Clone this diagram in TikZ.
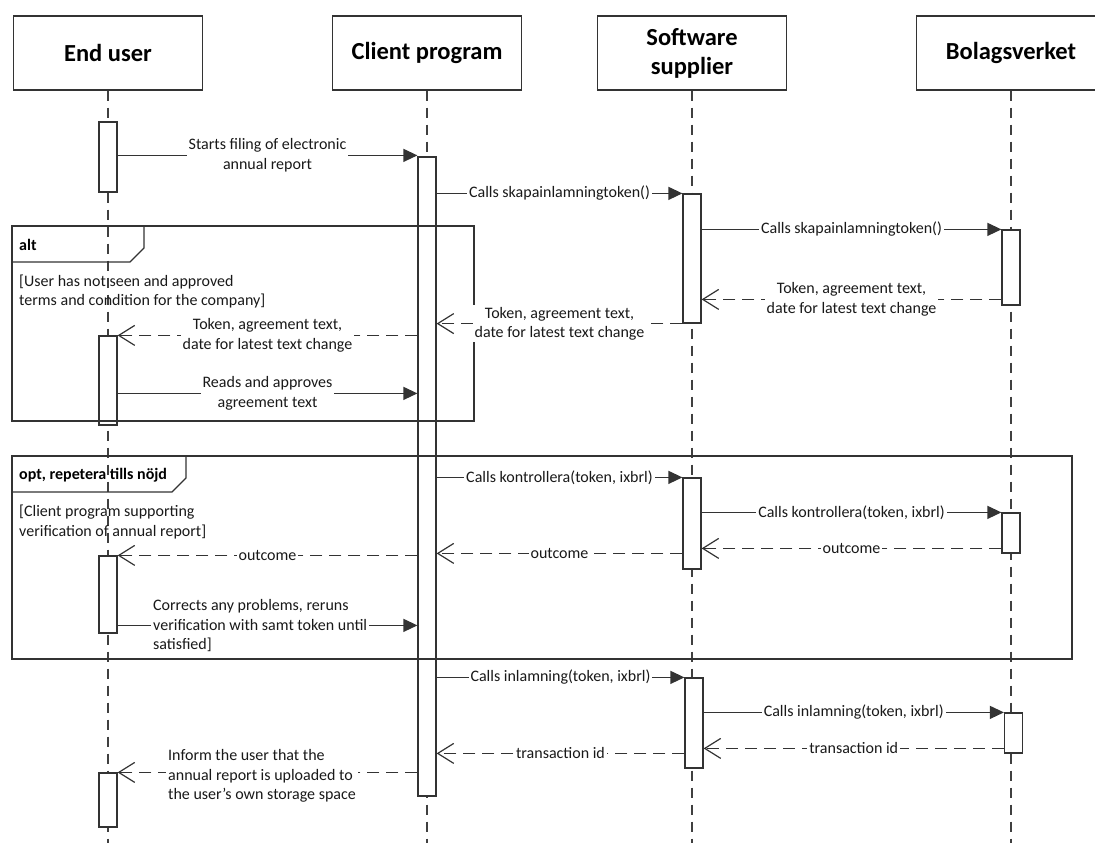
\documentclass[tikz,border=0pt]{standalone}
\usepackage{fontspec}
\setmainfont{Carlito}
\usetikzlibrary{arrows.meta,calc}
\begin{document}
\begin{tikzpicture}[x=1pt,y=-1pt,
  ln/.style={line width=1.2pt, draw=black!80},
  head/.style={ln, fill=white, minimum width=189pt, minimum height=74pt, inner sep=0pt,
    font=\fontsize{24.5}{29}\selectfont\bfseries, align=center, text=black},
  life/.style={line width=1.2pt, draw=black!75, dash pattern=on 10pt off 7pt},
  act/.style={ln, fill=white, minimum width=18pt, inner sep=0pt},
  call/.style={ln, -{Triangle[length=14pt,width=13pt]}},
  ret/.style={ln, dash pattern=on 12pt off 7pt, -{Straight Barb[length=16pt,width=20pt]}},
  lbl/.style={fill=white, inner sep=2pt, font=\fontsize{16}{19.5}\selectfont, align=center, text=black!90},
  guard/.style={inner sep=0pt, font=\fontsize{16}{19.5}\selectfont, align=left, text=black!90, anchor=west},
  ftitle/.style={inner sep=0pt, font=\fontsize{16}{19.5}\selectfont\bfseries, text=black, anchor=west},
]
\useasboundingbox (0,0) rectangle (1095,843);
\coordinate (bot) at (0,843);

% headers
\node[head] (eu) at (108,53) {End user};
\node[head] (cp) at (427,53) {Client program};
\node[head] (ss) at (692,53) {Software\\supplier};
\node[head] (bv) at (1011,53) {Bolagsverket};

% lifelines
\foreach \n in {eu,cp,ss,bv} \draw[life] (\n.south) -- (\n.south |- bot);

% activations
\node[act, minimum height=70pt]  (a1) at (108,157) {};
\node[act, minimum height=639pt] (c1) at (427,476.5) {};
\node[act, minimum height=129pt] (s1) at (692,258.5) {};
\node[act, minimum height=75pt]  (b1) at (1011,267.5) {};
\node[act, minimum height=89pt]  (a2) at (108,380.5) {};
\node[act, minimum height=91pt]  (s2) at (692,523.5) {};
\node[act, minimum height=40pt]  (b2) at (1011,533) {};
\node[act, minimum height=77pt]  (a3) at (108,594.5) {};
\node[act, minimum height=90pt]  (s3) at (694,723) {};
\node[act, minimum height=40pt]  (b3) at (1013.5,733) {};
\node[act, minimum height=54pt]  (a4) at (108,800) {};

% combined fragments
\node[ln, minimum width=462pt, minimum height=195pt, inner sep=0pt] (alt) at (243,323.5) {};
\draw[ln] (12,262) -- (130,262) -- (144,248) -- (144,226);
\node[ftitle] (altt) at (19,245) {alt};
\node[guard] (g1) at (19,291.5) {[User has not seen and approved\\terms and condition for the company]};

\node[ln, minimum width=1060pt, minimum height=203pt, inner sep=0pt] (opt) at (542,557.5) {};
\draw[ln] (12,492) -- (172,492) -- (186,478) -- (186,456);
\node[ftitle] (optt) at (19,475) {opt, repetera tills nöjd};
\node[guard] (g2) at (19,522) {[Client program supporting\\verification of annual report]};

% messages
\draw[call] ([yshift=-34pt]a1.north east) coordinate (m1) -- (c1.west |- m1)
  node[lbl,midway] (l1) {Starts filing of electronic\\annual report};
\draw[call] (c1.east |- s1.north) -- (s1.north west)
  node[lbl,midway] (l2) {Calls skapainlamningtoken()};
\draw[call] (s1.east |- b1.north) -- (b1.north west)
  node[lbl,midway] (l3) {Calls skapainlamningtoken()};
\draw[ret] ([yshift=-70pt]b1.north west) coordinate (r1) -- (s1.east |- r1)
  node[lbl,midway] (l4) {Token, agreement text,\\date for latest text change};
\draw[ret] (s1.south west) -- (c1.east |- s1.south)
  node[lbl,midway] (l5) {Token, agreement text,\\date for latest text change};
\draw[ret] (c1.west |- a2.north) -- (a2.north east)
  node[lbl,midway] (l6) {Token, agreement text,\\date for latest text change};
\draw[call] ([yshift=-58pt]a2.north east) coordinate (m4) -- (c1.west |- m4)
  node[lbl,midway] (l7) {Reads and approves\\agreement text};

\draw[call] (c1.east |- s2.north) -- (s2.north west)
  node[lbl,midway] (l8) {Calls kontrollera(token, ixbrl)};
\draw[call] (s2.east |- b2.north) -- (b2.north west)
  node[lbl,midway] (l9) {Calls kontrollera(token, ixbrl)};
\draw[ret] ([yshift=-36pt]b2.north west) coordinate (r4) -- (s2.east |- r4)
  node[lbl,midway] (l10) {outcome};
\draw[ret] ([yshift=-76pt]s2.north west) coordinate (r5) -- (c1.east |- r5)
  node[lbl,midway] (l11) {outcome};
\draw[ret] (c1.west |- a3.north) -- (a3.north east)
  node[lbl,midway] (l12) {outcome};
\draw[call] ([yshift=-70pt]a3.north east) coordinate (m7) -- (c1.west |- m7);
\node[lbl, align=left, anchor=west] (l13) at (151,626)
  {Corrects any problems, reruns\\verification with samt token until\\satisfied]};

\draw[call] (c1.east |- s3.north) -- (s3.north west)
  node[lbl,midway] (l14) {Calls inlamning(token, ixbrl)};
\draw[call] (s3.east |- b3.north) -- (b3.north west)
  node[lbl,midway] (l15) {Calls inlamning(token, ixbrl)};
\draw[ret] ([yshift=-36pt]b3.north west) coordinate (r7) -- (s3.east |- r7)
  node[lbl,midway] (l16) {transaction id};
\draw[ret] ([yshift=-76pt]s3.north west) coordinate (r8) -- (c1.east |- r8)
  node[lbl,midway] (l17) {transaction id};
\draw[ret] (c1.west |- a4.north) -- (a4.north east);
\node[lbl, align=left, anchor=west] (l18) at (166,776)
  {Inform the user that the\\annual report is uploaded to\\the user’s own storage space};
\end{tikzpicture}
\end{document}
